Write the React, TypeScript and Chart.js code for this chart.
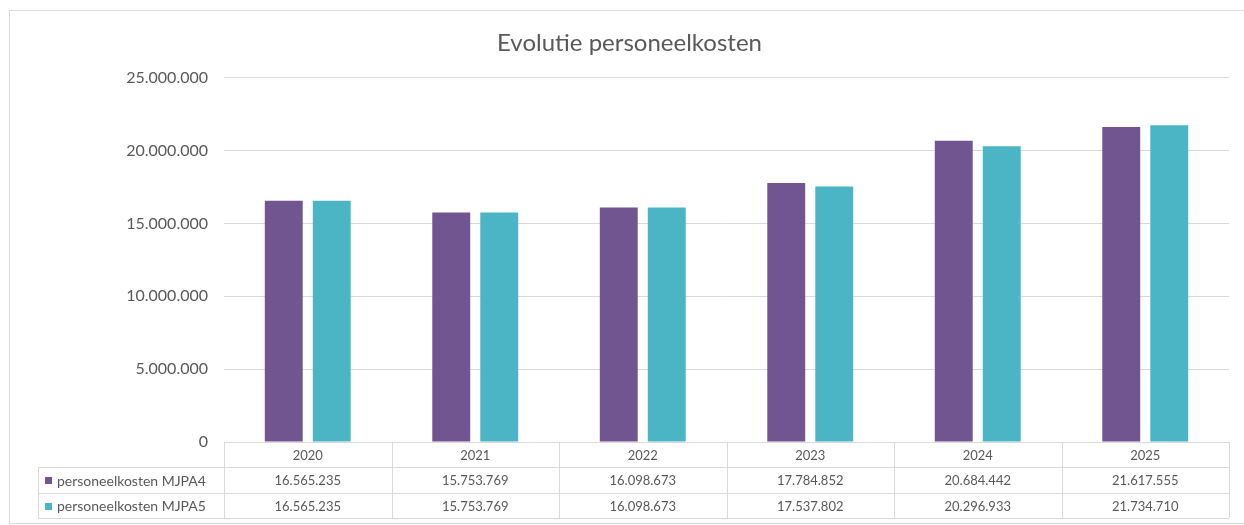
import React, { useEffect, useRef } from "react";
import { Chart, registerables } from "chart.js";

Chart.register(...registerables);

const categories = ["2020", "2021", "2022", "2023", "2024", "2025"];
const seriesNames = ["personeelkosten MJPA4", "personeelkosten MJPA5"];
const mjpa4 = [16565235, 15753769, 16098673, 17784852, 20684442, 21617555];
const mjpa5 = [16565235, 15753769, 16098673, 17537802, 20296933, 21734710];
const colors = ["#705591", "#4BB5C6"];
const titleText = "Evolutie personeelkosten";

const FONT = "Lato, 'Open Sans', sans-serif";
const TEXT = "#595959";
const LINE = "#d9d9d9";

function fmt(n: number): string {
  return String(Math.round(n)).replace(/\B(?=(\d{3})+(?!\d))/g, ".");
}

const tablePlugin = {
  id: "dataTable",
  afterDraw(chart: any) {
    const ctx = chart.ctx as CanvasRenderingContext2D;
    const area = chart.chartArea;
    const x = chart.scales.x;
    const n = categories.length;
    const colW = (area.right - area.left) / n;
    const top = area.bottom;
    const rowH = [25, 26, 25];
    const r1 = top + rowH[0];
    const r2 = r1 + rowH[1];
    const r3 = r2 + rowH[2];
    const legendLeft = 38;
    ctx.save();
    ctx.strokeStyle = LINE;
    ctx.lineWidth = 1;
    ctx.strokeRect(9.5, 10.5, 1250, 513);

    ctx.beginPath();
    ctx.moveTo(area.left, top + 0.5);
    ctx.lineTo(area.right, top + 0.5);
    [r1, r2, r3].forEach((y) => {
      ctx.moveTo(legendLeft, Math.round(y) + 0.5);
      ctx.lineTo(area.right, Math.round(y) + 0.5);
    });
    for (let i = 0; i <= n; i++) {
      const vx = Math.round(area.left + i * colW) + 0.5;
      ctx.moveTo(vx, top);
      ctx.lineTo(vx, r3);
    }
    ctx.moveTo(legendLeft + 0.5, r1);
    ctx.lineTo(legendLeft + 0.5, r3);
    ctx.stroke();

    ctx.fillStyle = TEXT;
    ctx.font = `13px ${FONT}`;
    ctx.textAlign = "center";
    ctx.textBaseline = "middle";
    categories.forEach((c, i) => {
      const cx = x.getPixelForValue(i);
      ctx.fillText(c, cx, (top + r1) / 2 + 1);
      ctx.fillText(fmt(mjpa4[i]), cx, (r1 + r2) / 2 + 1);
      ctx.fillText(fmt(mjpa5[i]), cx, (r2 + r3) / 2 + 1);
    });
    ctx.font = `14px ${FONT}`;
    const rows = [(r1 + r2) / 2, (r2 + r3) / 2];
    rows.forEach((cy, k) => {
      ctx.fillStyle = colors[k];
      ctx.fillRect(45, Math.round(cy) - 3, 7, 7);
      ctx.fillStyle = TEXT;
      ctx.textAlign = "left";
      ctx.fillText(seriesNames[k], 57, cy + 1);
    });
    ctx.restore();
  },
};

export default function App() {
  const ref = useRef<HTMLCanvasElement | null>(null);
  useEffect(() => {
    document.body.style.margin = "0";
    const chart = new Chart(ref.current as HTMLCanvasElement, {
      type: "bar",
      data: {
        labels: categories,
        datasets: [
          {
            label: seriesNames[0],
            data: mjpa4,
            backgroundColor: colors[0],
            categoryPercentage: 0.573,
            barPercentage: 0.79,
          },
          {
            label: seriesNames[1],
            data: mjpa5,
            backgroundColor: colors[1],
            categoryPercentage: 0.573,
            barPercentage: 0.79,
          },
        ],
      },
      options: {
        animation: false,
        responsive: true,
        maintainAspectRatio: false,
        layout: { padding: { left: 30, right: 15, top: 0, bottom: 83 } },
        plugins: {
          legend: { display: false },
          tooltip: { enabled: false },
          title: {
            display: true,
            text: titleText,
            color: TEXT,
            font: { family: FONT, size: 24, weight: "normal" },
            padding: { top: 29, bottom: 20 },
          },
        },
        scales: {
          x: {
            display: false,
          },
          y: {
            min: 0,
            max: 25000000,
            afterFit(scale: any) {
              scale.width = 194;
            },
            border: { display: false },
            grid: { color: LINE, drawTicks: false },
            ticks: {
              stepSize: 5000000,
              padding: 16,
              color: TEXT,
              font: { family: FONT, size: 16 },
              callback: (v: any) => fmt(Number(v)),
            },
          },
        },
      },
      plugins: [tablePlugin],
    });
    return () => chart.destroy();
  }, []);
  return (
    <div style={{ position: "absolute", left: 0, top: 0, width: 1244, height: 525, background: "#fff" }}>
      <canvas ref={ref} />
    </div>
  );
}
